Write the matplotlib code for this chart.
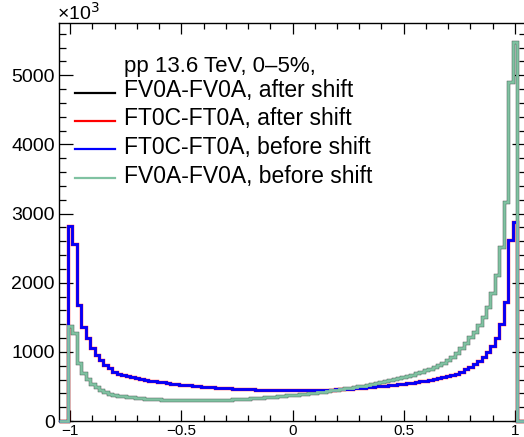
import numpy as np
import matplotlib
matplotlib.use("Agg")
import matplotlib.pyplot as plt
from matplotlib.lines import Line2D
from matplotlib.ticker import MultipleLocator

# cos(delta phi) distributions, bins of width 0.02 centred on -1.00 ... 1.00 (counts in units of 10^3)
bin_width = 0.02
bin_centers = np.round(np.arange(-1.0, 1.0 + 1e-9, bin_width), 2)

ft0c_ft0a_before = [
    2818, 2558, 1676, 1363, 1195, 1059, 954, 881, 809, 761,
    712, 679, 660, 645, 631, 619, 607, 596, 585, 575,
    566, 557, 549, 541, 534, 527, 520, 514, 508, 502,
    497, 492, 487, 483, 479, 475, 471, 468, 465, 462,
    460, 457, 455, 453, 451, 449, 448, 447, 446, 445,
    445,
    444, 444, 444, 445, 446, 447, 449, 451, 453, 456,
    459, 463, 467, 472, 477, 482, 488, 494, 500, 506,
    512, 518, 525, 532, 540, 548, 556, 565, 574, 584,
    594, 605, 617, 630, 644, 660, 679, 712, 747, 776,
    824, 871, 929, 1002, 1084, 1195, 1402, 1724, 2616, 2880,
]

fv0a_fv0a_before = [
    1373, 1267, 843, 689, 602, 535, 487, 448, 414, 390,
    371, 365, 356, 348, 341, 335, 329, 324, 319, 315,
    311, 308, 305, 303, 301, 300, 299, 298, 298, 298,
    299, 300, 301, 303, 305, 307, 310, 313, 316, 320,
    324, 328, 332, 337, 342, 347, 352, 358, 364, 370,
    376,
    382, 389, 396, 403, 410, 418, 426, 434, 443, 452,
    461, 471, 481, 491, 502, 513, 525, 537, 550, 563,
    577, 591, 606, 621, 637, 654, 672, 691, 711, 732,
    755, 779, 805, 834, 881, 929, 987, 1050, 1123, 1210,
    1291, 1387, 1507, 1652, 1845, 2110, 2519, 3169, 4903, 5482,
]

# after the shift correction the distributions coincide with the uncorrected ones
fv0a_fv0a_after = list(fv0a_fv0a_before)
ft0c_ft0a_after = list(ft0c_ft0a_before)

header = "pp 13.6 TeV, 0\u20135%,"
labels = ["FV0A-FV0A, after shift", "FT0C-FT0A, after shift",
          "FT0C-FT0A, before shift", "FV0A-FV0A, before shift"]
colors = ["black", "red", "#0000ff", "#80c2a2"]

x_range = (-1.05, 1.05)

plt.rcParams["font.family"] = ["Liberation Sans", "DejaVu Sans"]

W, H = 524, 437
fig = plt.figure(figsize=(W / 100, H / 100), dpi=100)

ax_l, ax_r, ax_t, ax_b = 59, 526, 23, 421
ax = fig.add_axes([ax_l / W, 1 - ax_b / H, (ax_r - ax_l) / W, (ax_b - ax_t) / H])

# histogram outlines, padded with empty bins out to the axis range
n_pad = int(round((x_range[1] - 1.0 - bin_width / 2) / bin_width))
edges = np.round(np.arange(-1.0 - bin_width / 2 - n_pad * bin_width,
                           1.0 + bin_width / 2 + n_pad * bin_width + 1e-9, bin_width), 3)

def draw_hist(values, color, lw, z):
    padded = np.concatenate([np.zeros(n_pad), np.asarray(values, float), np.zeros(n_pad)])
    ax.stairs(padded, edges, color=color, lw=lw, baseline=None, zorder=z, clip_on=False)

draw_hist(fv0a_fv0a_after, colors[0], 2.4, 2)
draw_hist(ft0c_ft0a_after, colors[1], 2.4, 2)
draw_hist(ft0c_ft0a_before, colors[2], 2.0, 3)
draw_hist(fv0a_fv0a_before, colors[3], 2.0, 3)

ax.set_xlim(*x_range)
ax.set_ylim(0, 1.05 * max(fv0a_fv0a_before))

ax.xaxis.set_major_locator(MultipleLocator(0.5))
ax.xaxis.set_minor_locator(MultipleLocator(0.1))
ax.yaxis.set_major_locator(MultipleLocator(1000))
ax.yaxis.set_minor_locator(MultipleLocator(200))
ax.xaxis.set_major_formatter(plt.FuncFormatter(
    lambda v, p: ("%g" % v).replace("-", "\u2212")))
ax.yaxis.set_major_formatter(plt.FuncFormatter(lambda v, p: "%d" % v))

ax.tick_params(which="both", direction="in", top=True, right=True, width=0.9, color="black")
ax.tick_params(axis="x", which="major", length=8, labelsize=11, pad=2)
ax.tick_params(axis="x", which="minor", length=4.3)
ax.tick_params(axis="y", which="major", length=10, labelsize=14, pad=3)
ax.tick_params(axis="y", which="minor", length=5)
for s in ax.spines.values():
    s.set_linewidth(1.0)

# exponent marker of the y axis
fig.text(57 / W, 1 - 20 / H, "\u00d710$^{3}$", fontsize=14, ha="left", va="baseline")

# legend block
def fy(y):
    return 1 - y / H

fig.text(124 / W, fy(71.7), header, fontsize=16, ha="left", va="baseline")
row_line_y = [92.7, 120.7, 149.3, 178.3]
for lab, col, yl in zip(labels, colors, row_line_y):
    fig.add_artist(Line2D([75 / W, 115 / W], [fy(yl), fy(yl)], color=col, lw=1.6,
                          transform=fig.transFigure))
    fig.text(124 / W, fy(yl + 4.5), lab, fontsize=16.5, ha="left", va="baseline")

fig.savefig("out.png", dpi=100)
